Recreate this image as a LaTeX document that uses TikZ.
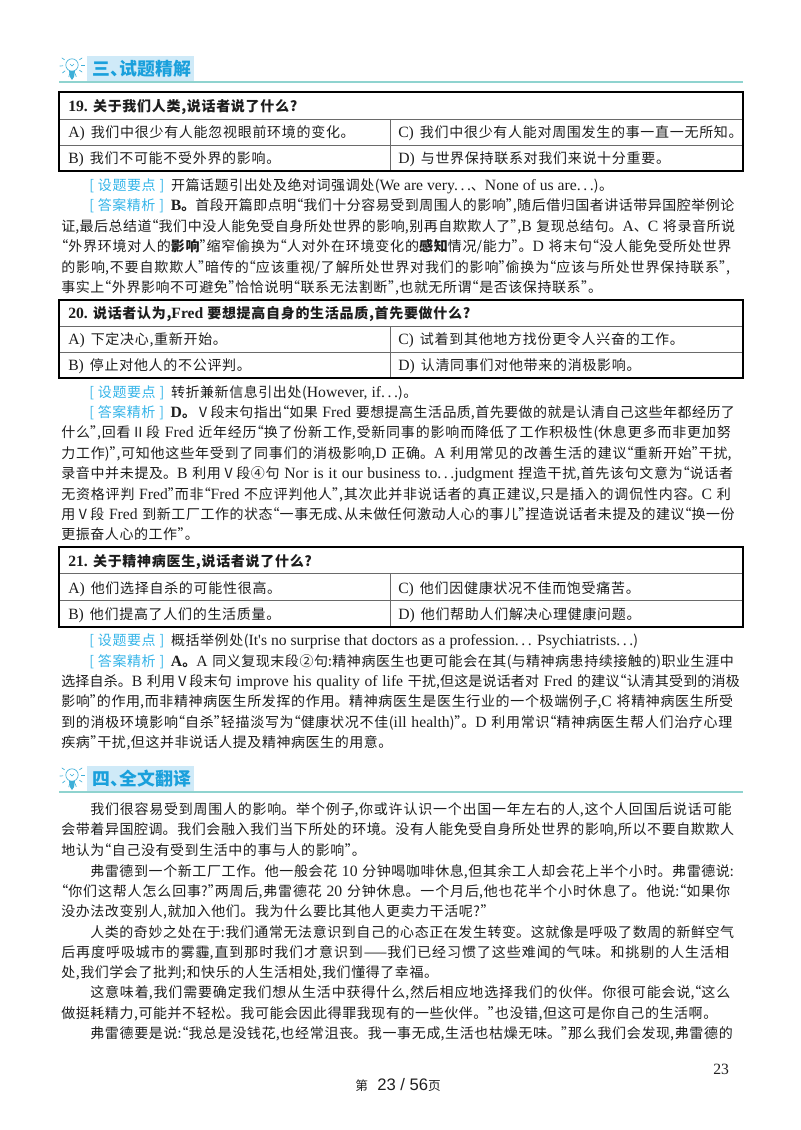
\documentclass[tikz,border=0pt]{standalone}
\usepackage{fontspec}
\setmainfont{Noto Sans CJK SC}
\newfontfamily\lat[Scale=1.12]{Liberation Serif}
\newfontfamily\footsans{Liberation Sans}
\usetikzlibrary{positioning}

\definecolor{inkblack}{HTML}{1E1E1E}
\definecolor{headblue}{HTML}{1AA0DC}
\definecolor{headfill}{HTML}{CFEAF8}
\definecolor{headrule}{HTML}{8FD3CF}
\definecolor{tagblue}{HTML}{35B4E8}
\definecolor{tablerulegray}{HTML}{6A6A6A}

% line breaking between ideographs gives the glue that fills each line
\XeTeXlinebreaklocale "zh"
\XeTeXlinebreakskip=0pt plus 1.5pt minus .7pt

% half width punctuation as the page prints it
\XeTeXinterchartokenstate=1
\newXeTeXintercharclass\tailclass
\newXeTeXintercharclass\headclass
\XeTeXcharclass"FF0C=\tailclass
\XeTeXcharclass"FF1A=\tailclass
\XeTeXcharclass"FF1B=\tailclass
\XeTeXcharclass"FF1F=\tailclass
\XeTeXcharclass"FF09=\tailclass
\XeTeXcharclass"3001=\tailclass
\XeTeXcharclass"201D=\tailclass
\XeTeXcharclass"201C=\headclass
\XeTeXcharclass"FF08=\headclass
\newcommand{\halfset}[1]{%
  \XeTeXinterchartoks\tailclass #1={\kern-.5em}%
  \XeTeXinterchartoks #1\headclass={\kern-.5em}}
\halfset{0}\halfset{1}\halfset{2}\halfset{3}
\XeTeXinterchartoks\tailclass\tailclass={\kern-.5em}

\newcommand{\en}[1]{{\lat #1}}
\newcommand{\opt}[1]{{\lat #1)}\hspace{4.5pt}}
\newcommand{\qtag}[1]{{\color{tagblue}[\hspace{3pt}#1\hspace{3pt}]}\hspace{5pt}}
\newcommand{\ans}[1]{{\lat\bfseries #1}\textbf{。}}

\tikzset{
  every node/.style={inner sep=0pt,text=inkblack,font=\fontsize{10.5pt}{12pt}\selectfont},
  baseline/.style={anchor=base west,yshift=-4pt},
  plainline/.style={baseline,font=\fontsize{10.5pt}{12pt}\selectfont\addfontfeature{LetterSpace=4}},
  fitline/.style={baseline,text width=510.75pt,execute at begin node={\parfillskip=0pt\relax\tolerance=9999\hbadness=10000\hfuzz=4pt}},
  indentline/.style={fitline,text width=489pt},
  optionline/.style={baseline,font=\fontsize{10.5pt}{12pt}\selectfont\addfontfeature{LetterSpace=5}},
  questionline/.style={baseline,font=\fontsize{10.5pt}{12pt}\selectfont\bfseries\addfontfeature{LetterSpace=5}},
  headbox/.style={anchor=west,fill=headfill,minimum width=80pt,minimum height=19pt,text=headblue,font=\fontsize{13.4pt}{15pt}\selectfont\bfseries},
  headline/.style={headrule,line width=1pt},
  bulbline/.style={headblue!70!headrule,line width=.5pt},
  tableframe/.style={black,line width=1.2pt},
  tablerule/.style={tablerulegray,line width=.5pt},
}

% light bulb beside a section head
\newcommand{\bulbicon}[2]{%
  \begin{scope}[shift={(#1,#2)}]
    \draw[bulbline] (0,0) circle[radius=6.2];
    \draw[bulbline] (-2,-1) -- (0,1) -- (2,-1);
    \fill[headblue!70!headrule] (-3,6) -- (3,6) -- (2,12) -- (0,15) -- (-2,12) -- cycle;
    \foreach \a in {0,35,...,175,215,325}
      \draw[bulbline] (\a:9) -- (\a:12.5);
  \end{scope}}

\begin{document}
\begin{tikzpicture}[x=.75pt,y=-.75pt]
	\useasboundingbox (0,0) rectangle (800,1130);

	% section three
	\bulbicon{72}{65}
	\node[headbox] (head3) at (87,69) {\,三、试题精解};
	\draw[headline] (59,82) -- (743,82);

	% question tables
	\foreach \t/\r/\s/\b in {92/119/145/171,300/326/352/378,547/573/600/627}{
		\draw[tablerule] (59,\r) -- (743,\r);
		\draw[tablerule] (59,\s) -- (743,\s);
		\draw[tablerule] (390,\r) -- (390,\b);
		\draw[tableframe] (59,\t) rectangle (743,\b);
	}

	% question 19
	\node[questionline] (q19) at (68,106) {\en{19.} 关于我们人类,说话者说了什么?};
	\node[optionline] (q19a) at (68,132) {\opt{A}我们中很少有人能忽视眼前环境的变化。};
	\node[optionline] (q19c) at (398,132) {\opt{C}我们中很少有人能对周围发生的事一直一无所知。};
	\node[optionline] (q19b) at (68,158) {\opt{B}我们不可能不受外界的影响。};
	\node[optionline] (q19d) at (398,158) {\opt{D}与世界保持联系对我们来说十分重要。};
	\node[plainline] (s19) at (89,185) {\qtag{设题要点}开篇话题引出处及绝对词强调处(\en{We are very.\,.\,.}、\en{None of us are.\,.\,.})。};
	\node[indentline] (j19a) at (89,205) {\qtag{答案精析}\ans{B}首段开篇即点明“我们十分容易受到周围人的影响”,随后借归国者讲话带异国腔举例论};
	\node[fitline] (j19b) at (61,226) {证,最后总结道“我们中没人能免受自身所处世界的影响,别再自欺欺人了”,\en{B} 复现总结句。\en{A}、\en{C} 将录音所说};
	\node[fitline] (j19c) at (61,246) {\kern-.5em“外界环境对人的\textbf{影响}”缩窄偷换为“人对外在环境变化的\textbf{感知}情况/能力”。\en{D} 将末句“没人能免受所处世界};
	\node[fitline] (j19d) at (61,267) {的影响,不要自欺欺人”暗传的“应该重视/了解所处世界对我们的影响”偷换为“应该与所处世界保持联系”,};
	\node[plainline] (j19e) at (61,287) {事实上“外界影响不可避免”恰恰说明“联系无法割断”,也就无所谓“是否该保持联系”。};

	% question 20
	\node[questionline] (q20) at (68,313) {\en{20.} 说话者认为,\en{Fred} 要想提高自身的生活品质,首先要做什么?};
	\node[optionline] (q20a) at (68,339) {\opt{A}下定决心,重新开始。};
	\node[optionline] (q20c) at (398,339) {\opt{C}试着到其他地方找份更令人兴奋的工作。};
	\node[optionline] (q20b) at (68,365) {\opt{B}停止对他人的不公评判。};
	\node[optionline] (q20d) at (398,365) {\opt{D}认清同事们对他带来的消极影响。};
	\node[plainline] (s20) at (89,392) {\qtag{设题要点}转折兼新信息引出处(\en{However, if.\,.\,.})。};
	\node[indentline] (j20a) at (89,412) {\qtag{答案精析}\ans{D}Ⅴ段末句指出“如果 \en{Fred} 要想提高生活品质,首先要做的就是认清自己这些年都经历了};
	\node[fitline] (j20b) at (61,432) {什么”,回看Ⅱ段 \en{Fred} 近年经历“换了份新工作,受新同事的影响而降低了工作积极性(休息更多而非更加努};
	\node[fitline] (j20c) at (61,453) {力工作)”,可知他这些年受到了同事们的消极影响,\en{D} 正确。\en{A} 利用常见的改善生活的建议“重新开始”干扰,};
	\node[fitline] (j20d) at (61,473) {录音中并未提及。\en{B} 利用Ⅴ段④句 \en{Nor is it our business to.\,.\,.judgment} 捏造干扰,首先该句文意为“说话者};
	\node[fitline] (j20e) at (61,494) {无资格评判 \en{Fred}”而非“\en{Fred} 不应评判他人”,其次此并非说话者的真正建议,只是插入的调侃性内容。\en{C} 利};
	\node[fitline] (j20f) at (61,514) {用Ⅴ段 \en{Fred} 到新工厂工作的状态“一事无成、从未做任何激动人心的事儿”捏造说话者未提及的建议“换一份};
	\node[plainline] (j20g) at (61,534) {更振奋人心的工作”。};

	% question 21
	\node[questionline] (q21) at (68,561) {\en{21.} 关于精神病医生,说话者说了什么?};
	\node[optionline] (q21a) at (68,588) {\opt{A}他们选择自杀的可能性很高。};
	\node[optionline] (q21c) at (398,588) {\opt{C}他们因健康状况不佳而饱受痛苦。};
	\node[optionline] (q21b) at (68,614) {\opt{B}他们提高了人们的生活质量。};
	\node[optionline] (q21d) at (398,614) {\opt{D}他们帮助人们解决心理健康问题。};
	\node[plainline] (s21) at (89,640) {\qtag{设题要点}概括举例处(\en{It's no surprise that doctors as a profession.\,.\,. Psychiatrists.\,.\,.})};
	\node[indentline] (j21a) at (89,661) {\qtag{答案精析}\ans{A}\en{A} 同义复现末段②句:精神病医生也更可能会在其(与精神病患持续接触的)职业生涯中};
	\node[fitline] (j21b) at (61,681) {选择自杀。\en{B} 利用Ⅴ段末句 \en{improve his quality of life} 干扰,但这是说话者对 \en{Fred} 的建议“认清其受到的消极};
	\node[fitline] (j21c) at (61,701) {影响”的作用,而非精神病医生所发挥的作用。精神病医生是医生行业的一个极端例子,\en{C} 将精神病医生所受};
	\node[fitline] (j21d) at (61,722) {到的消极环境影响“自杀”轻描淡写为“健康状况不佳(\en{ill health})”。\en{D} 利用常识“精神病医生帮人们治疗心理};
	\node[plainline] (j21e) at (61,742) {疾病”干扰,但这并非说话人提及精神病医生的用意。};

	% section four
	\bulbicon{72}{775}
	\node[headbox] (head4) at (87,779) {\,四、全文翻译};
	\draw[headline] (59,792) -- (743,792);

	\node[indentline] (p1) at (90,809) {我们很容易受到周围人的影响。举个例子,你或许认识一个出国一年左右的人,这个人回国后说话可能};
	\node[fitline] (p2) at (61,829) {会带着异国腔调。我们会融入我们当下所处的环境。没有人能免受自身所处世界的影响,所以不要自欺欺人};
	\node[plainline] (p3) at (61,850) {地认为“自己没有受到生活中的事与人的影响”。};
	\node[indentline] (p4) at (90,871) {弗雷德到一个新工厂工作。他一般会花 \en{10} 分钟喝咖啡休息,但其余工人却会花上半个小时。弗雷德说:};
	\node[fitline] (p5) at (61,891) {\kern-.5em“你们这帮人怎么回事?”两周后,弗雷德花 \en{20} 分钟休息。一个月后,他也花半个小时休息了。他说:“如果你};
	\node[plainline] (p6) at (61,911) {没办法改变别人,就加入他们。我为什么要比其他人更卖力干活呢?”};
	\node[indentline] (p7) at (90,932) {人类的奇妙之处在于:我们通常无法意识到自己的心态正在发生转变。这就像是呼吸了数周的新鲜空气};
	\node[fitline] (p8) at (61,952) {后再度呼吸城市的雾霾,直到那时我们才意识到——我们已经习惯了这些难闻的气味。和挑剔的人生活相};
	\node[plainline] (p9) at (61,972) {处,我们学会了批判;和快乐的人生活相处,我们懂得了幸福。};
	\node[indentline] (p10) at (90,992) {这意味着,我们需要确定我们想从生活中获得什么,然后相应地选择我们的伙伴。你很可能会说,“这么};
	\node[plainline] (p11) at (61,1013) {做挺耗精力,可能并不轻松。我可能会因此得罪我现有的一些伙伴。”也没错,但这可是你自己的生活啊。};
	\node[indentline] (p12) at (90,1033) {弗雷德要是说:“我总是没钱花,也经常沮丧。我一事无成,生活也枯燥无味。”那么我们会发现,弗雷德的};

	% page numbers
	\node[baseline] (folio) at (713,1069) {{\lat 23}};
	\node[baseline] (pagecount) at (355,1085) {{\fontsize{9.5pt}{12pt}\selectfont 第}\hspace{7pt}{\footsans\fontsize{12.5pt}{14pt}\selectfont 23 / 56}{\fontsize{9.5pt}{12pt}\selectfont 页}};
\end{tikzpicture}
\end{document}
